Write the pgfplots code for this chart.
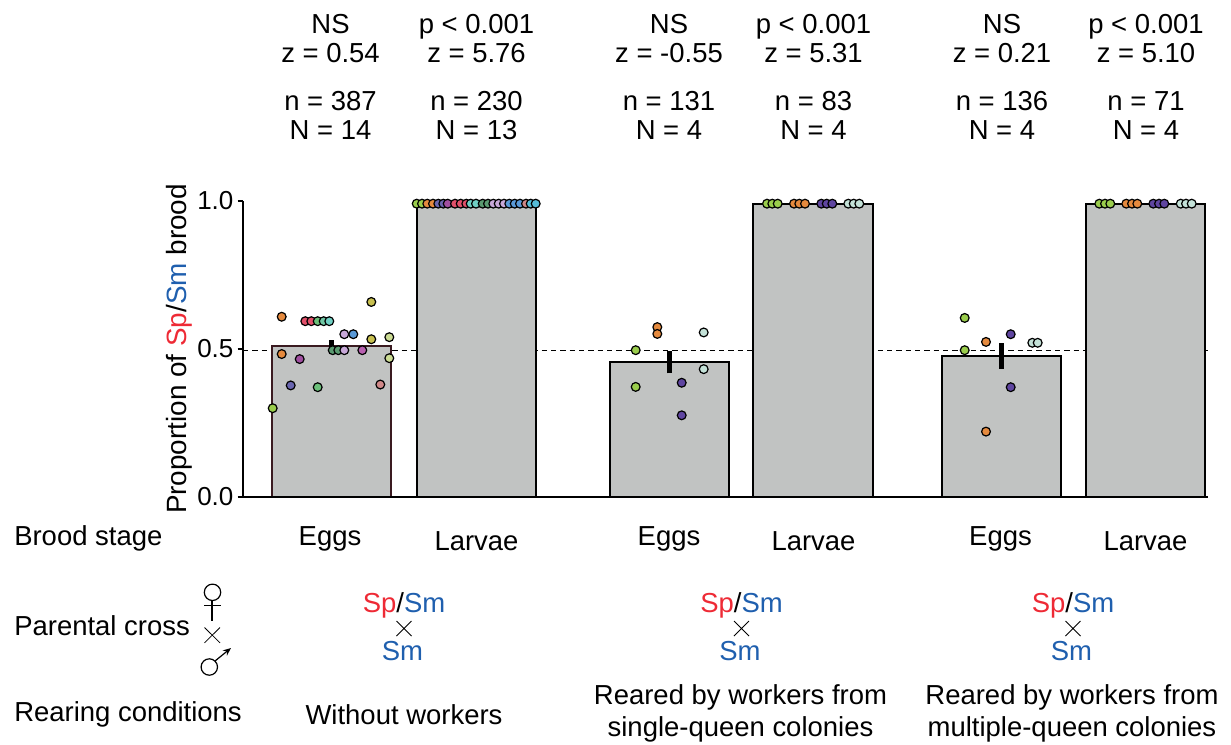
\documentclass[border=0pt]{standalone}
\usepackage{pgfplots}
\pgfplotsset{compat=1.18}
\usepackage{fontspec}
\setmainfont{Liberation Sans}
\usetikzlibrary{arrows.meta}
\definecolor{barfill}{HTML}{C1C3C2}
\definecolor{spred}{HTML}{EE2A35}
\definecolor{smblue}{HTML}{1F5FAE}
\definecolor{cgreen}{HTML}{9ACD4C}
\definecolor{corange}{HTML}{E58A3E}
\definecolor{cpurple}{HTML}{5F45A0}
\definecolor{cpale}{HTML}{C4E2D8}
\definecolor{cblue}{HTML}{6A66B0}
\definecolor{cmag}{HTML}{A04FA0}
\definecolor{cred}{HTML}{E2506A}
\definecolor{cmgreen}{HTML}{6CC07A}
\definecolor{cseafoam}{HTML}{70C8A4}
\definecolor{cteal}{HTML}{70D0C4}
\definecolor{cdgreen}{HTML}{5A9A70}
\definecolor{clilac}{HTML}{C8A8D8}
\definecolor{csky}{HTML}{5A9AD8}
\definecolor{corchid}{HTML}{B860B0}
\definecolor{cyellow}{HTML}{C8C050}
\definecolor{crose}{HTML}{D08888}
\definecolor{clime}{HTML}{CCDC94}
\definecolor{ccyan}{HTML}{55BCD8}
\definecolor{bar1edge}{HTML}{3A1A20}
\pgfplotsset{pt/.style={only marks,mark=*,mark size=3.3pt,mark options={draw=black,line width=0.9pt,fill=#1,scale=1},forget plot}}
\newcommand{\SpSm}{\textcolor{spred}{Sp}/\textcolor{smblue}{Sm}}
\begin{document}
\begin{tikzpicture}[x=0.75pt,y=-0.75pt,every node/.style={font=\fontsize{20.6}{24}\selectfont,inner sep=0pt,align=center}]
\useasboundingbox (0,0) rectangle (1231,744);
\begin{axis}[
  at={(182.25pt,-372.75pt)},anchor=south west,
  scale only axis,width=723.75pt,height=222pt,
  xmin=243,xmax=1208,ymin=0,ymax=1,
  axis lines=left,axis line style={line width=1pt,-},
  clip=false,
  xtick=\empty,ytick={0,0.5,1},
  yticklabels={0.0,0.5,1.0},
  y tick label style={font=\fontsize{19.5}{24}\selectfont,inner sep=0pt,xshift=-3pt},
  /pgf/number format/assume math mode=true,
  major tick length=4pt,tick style={black,line width=1pt},
  tick align=outside,
  ylabel={Proportion of \textcolor{spred}{Sp}/\textcolor{smblue}{Sm} brood},
  ylabel style={font=\fontsize{20.9}{24}\selectfont,at={(axis description cs:-0.052,0.5)},anchor=south},
  every axis plot/.append style={forget plot},
]
% reference line
\addplot[black,line width=0.8pt,dash pattern=on 4pt off 3pt] coordinates {(243,0.496)(1208,0.496)};
% bars
\pgfplotsset{barst/.style={fill=barfill,line width=1.4pt}}
\addplot[barst,draw=bar1edge] coordinates {(271.7,0)(271.7,0.511)(391,0.511)(391,0)} --cycle;
\addplot[barst,draw=black] coordinates {(416.7,0)(416.7,0.991)(535.7,0.991)(535.7,0)} --cycle;
\addplot[barst,draw=black] coordinates {(610,0)(610,0.4556)(729.3,0.4556)(729.3,0)} --cycle;
\addplot[barst,draw=black] coordinates {(753.3,0)(753.3,0.991)(872.7,0.991)(872.7,0)} --cycle;
\addplot[barst,draw=black] coordinates {(941.7,0)(941.7,0.477)(1061,0.477)(1061,0)} --cycle;
\addplot[barst,draw=black] coordinates {(1086.3,0)(1086.3,0.991)(1205.3,0.991)(1205.3,0)} --cycle;
% x axis line redrawn across bars
\addplot[black,line width=1pt] coordinates {(243,0)(1207,0)};
% bar 1 points
\addplot[pt=cgreen] coordinates {(272.7,0.30)};
\addplot[pt=corange] coordinates {(281.7,0.609)(281.7,0.483)};
\addplot[pt=cblue] coordinates {(290.7,0.377)};
\addplot[pt=cmag] coordinates {(299.7,0.466)};
\addplot[pt=cred] coordinates {(305.3,0.594)(311.3,0.594)};
\addplot[pt=cmgreen] coordinates {(317.7,0.594)(317.7,0.371)};
\addplot[pt=cseafoam] coordinates {(323.7,0.594)};
\addplot[pt=cteal] coordinates {(329.3,0.594)};
\addplot[pt=cdgreen] coordinates {(332.7,0.496)(338.3,0.496)};
\addplot[pt=clilac] coordinates {(344.3,0.496)(344.3,0.55)};
\addplot[pt=csky] coordinates {(353.3,0.55)};
\addplot[pt=corchid] coordinates {(362.3,0.496)};
\addplot[pt=cyellow] coordinates {(371.3,0.659)(371.3,0.533)};
\addplot[pt=crose] coordinates {(380.3,0.38)};
\addplot[pt=clime] coordinates {(389.3,0.54)(389.3,0.469)};
% bar 2 points
\addplot[pt=cgreen] coordinates {(416.7,0.991)(422,0.991)};
\addplot[pt=corange] coordinates {(427.3,0.991)(433,0.991)};
\addplot[pt=cblue] coordinates {(438.3,0.991)(443.3,0.991)};
\addplot[pt=cmag] coordinates {(447.7,0.991)};
\addplot[pt=cred] coordinates {(455,0.991)(460.7,0.991)(466.3,0.991)};
\addplot[pt=cteal] coordinates {(470.7,0.991)(476,0.991)};
\addplot[pt=cdgreen] coordinates {(482.7,0.991)(488,0.991)};
\addplot[pt=clilac] coordinates {(493.3,0.991)(498.7,0.991)(504,0.991)};
\addplot[pt=csky] coordinates {(509.3,0.991)(514.7,0.991)(520,0.991)};
\addplot[pt=crose] coordinates {(526,0.991)};
\addplot[pt=ccyan] coordinates {(530.7,0.991)(535.7,0.991)};
% bar 3 points
\addplot[pt=cgreen] coordinates {(635.7,0.496)(635.7,0.372)};
\addplot[pt=corange] coordinates {(657.3,0.574)(657.3,0.551)};
\addplot[pt=cpurple] coordinates {(681.7,0.386)(681.7,0.276)};
\addplot[pt=cpale] coordinates {(703.7,0.556)(703.7,0.432)};
% bar 4 points
\addplot[pt=cgreen] coordinates {(767,0.991)(772.3,0.991)(777.7,0.991)};
\addplot[pt=corange] coordinates {(794,0.991)(799.3,0.991)(805,0.991)};
\addplot[pt=cpurple] coordinates {(821.3,0.991)(826.7,0.991)(832.3,0.991)};
\addplot[pt=cpale] coordinates {(848.3,0.991)(853.7,0.991)(859.3,0.991)};
% bar 5 points
\addplot[pt=cgreen] coordinates {(964.7,0.605)(964.7,0.496)};
\addplot[pt=corange] coordinates {(986,0.524)(986,0.221)};
\addplot[pt=cpurple] coordinates {(1010.7,0.55)(1010.7,0.371)};
\addplot[pt=cpale] coordinates {(1032.3,0.521)(1037.7,0.521)};
% bar 6 points
\addplot[pt=cgreen] coordinates {(1099.3,0.991)(1105,0.991)(1110.3,0.991)};
\addplot[pt=corange] coordinates {(1126.3,0.991)(1132,0.991)(1137.3,0.991)};
\addplot[pt=cpurple] coordinates {(1153.3,0.991)(1159,0.991)(1164.3,0.991)};
\addplot[pt=cpale] coordinates {(1180.7,0.991)(1186,0.991)(1191.7,0.991)};
% error bars
\addplot[black,line width=3.6pt] coordinates {(331.7,0.495)(331.7,0.529)};
\addplot[black,line width=3.6pt] coordinates {(669.7,0.418)(669.7,0.493)};
\addplot[black,line width=3.6pt] coordinates {(1001.3,0.434)(1001.3,0.519)};
\end{axis}
% header statistics
\foreach \x/\a/\b/\c/\d in {
 330.5/NS/z = 0.54/n = 387/N = 14,
 476.5/p < 0.001/z = 5.76/n = 230/N = 13,
 669/NS/z = -0.55/n = 131/N = 4,
 813.5/p < 0.001/z = 5.31/n = 83/N = 4,
 1002/NS/z = 0.21/n = 136/N = 4,
 1146/p < 0.001/z = 5.10/n = 71/N = 4}{
  \node[anchor=base] at (\x,33) {\a};
  \node[anchor=base] at (\x,62) {\b};
  \node[anchor=base] at (\x,110) {\c};
  \node[anchor=base] at (\x,139) {\d};
}
% row labels
\node[anchor=base west] at (14,545) {Brood stage};
\node[anchor=base west] at (14,635) {Parental cross};
\node[anchor=base west] at (14,721) {Rearing conditions};
% stage labels
\foreach \x/\y/\t in {330/545/Eggs,476.5/550/Larvae,669/545/Eggs,813.5/550/Larvae,1000.5/545/Eggs,1145.5/550/Larvae}{
  \node[anchor=base] at (\x,\y) {\t};
}
% crosses
\foreach \x in {404,741.5,1073}{
  \node[anchor=base] at (\x,612) {\SpSm};
  \node[anchor=base] at (\x-1.5,660) {\textcolor{smblue}{Sm}};
  \draw[black,line width=0.6pt] (\x-7.5,621) -- (\x+7.5,636) (\x-7.5,636) -- (\x+7.5,621);
}
% sex symbols
\draw[line width=0.9pt] (212.5,592.3) circle (8.2);
\draw[line width=1.2pt] (212,600) -- (212,620.5) (204,605.5) -- (221,605.5);
\draw[line width=0.6pt] (204.5,627.5) -- (220,642.8) (204.5,642.8) -- (220,627.5);
\draw[line width=0.9pt] (209.3,667) circle (8.2);
\draw[line width=0.9pt,-{Stealth[length=6pt,width=5pt]}] (215,661) -- (231,648);
% bottom labels
\node[anchor=base] at (404,724) {Without workers};
\node[anchor=base] at (740.5,704) {Reared by workers from};
\node[anchor=base] at (740.5,736) {single-queen colonies};
\node[anchor=base] at (1072,704) {Reared by workers from};
\node[anchor=base] at (1072,736) {multiple-queen colonies};
\end{tikzpicture}
\end{document}
